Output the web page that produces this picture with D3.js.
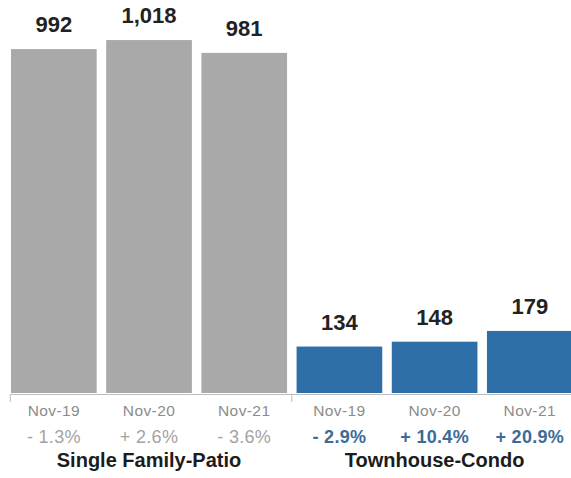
<!DOCTYPE html>
<html>
<head>
<meta charset="utf-8">
<script src="https://cdn.jsdelivr.net/npm/d3@7/dist/d3.min.js"></script>
<style>
  html, body { margin: 0; padding: 0; background: #fff; }
  svg { display: block; font-family: "Liberation Sans", Arial, Helvetica, sans-serif; }
</style>
</head>
<body>
<svg id="chart" width="571" height="478"></svg>
<script>
// Closed sales by month, two property types
const groups = ["Single Family-Patio", "Townhouse-Condo"];
const periods = ["Nov-19", "Nov-20", "Nov-21"];
const singleFamily = [992, 1018, 981];
const townhouse = [134, 148, 179];
const singleFamilyChange = ["- 1.3%", "+ 2.6%", "- 3.6%"];
const townhouseChange = ["- 2.9%", "+ 10.4%", "+ 20.9%"];

const series = [
  { group: groups[0], values: singleFamily, changes: singleFamilyChange,
    fill: "#a9a9a9", changeColor: "#a3a3a3", changeWeight: 400 },
  { group: groups[1], values: townhouse, changes: townhouseChange,
    fill: "#2f6fa7", changeColor: "#3b6b98", changeWeight: 700 }
];

const rows = [];
series.forEach(s => periods.forEach((p, i) => rows.push({
  key: s.group + "|" + p, group: s.group, period: p, value: s.values[i],
  change: s.changes[i], fill: s.fill, changeColor: s.changeColor, changeWeight: s.changeWeight
})));

const svg = d3.select("#chart");
const baseline = 393;

const x = d3.scaleBand()
  .domain(rows.map(d => d.key))
  .range([6.24, 577.4])
  .paddingInner(0.1)
  .paddingOuter(0.05);

const y = d3.scaleLinear()
  .domain([0, 1000])
  .range([baseline, baseline - 346.7]);

// bars
svg.append("g").selectAll("rect")
  .data(rows)
  .join("rect")
  .attr("x", d => x(d.key))
  .attr("y", d => y(d.value))
  .attr("width", x.bandwidth())
  .attr("height", d => y(0) - y(d.value))
  .attr("fill", d => d.fill);

// value labels
svg.append("g").selectAll("text")
  .data(rows)
  .join("text")
  .attr("x", d => x(d.key) + x.bandwidth() / 2)
  .attr("y", d => y(d.value) - 17)
  .attr("text-anchor", "middle")
  .attr("font-size", 22)
  .attr("font-weight", 700)
  .attr("fill", "#222")
  .text(d => d3.format(",")(d.value));

// baseline axis with group separators
const groupEdges = groups.map(g => {
  const first = rows.find(d => d.group === g);
  return x(first.key) - x.step() * x.paddingInner() / 2;
});
const axis = svg.append("g").attr("stroke", "#bdbdbd").attr("stroke-width", 1);
axis.append("line")
  .attr("x1", groupEdges[0] + 4).attr("x2", 571)
  .attr("y1", baseline + 1.5).attr("y2", baseline + 1.5);
axis.selectAll("line.sep")
  .data(groupEdges)
  .join("line")
  .attr("class", "sep")
  .attr("x1", (d, i) => i === 0 ? d + 4 : d)
  .attr("x2", (d, i) => i === 0 ? d + 4 : d)
  .attr("y1", baseline + 1.5)
  .attr("y2", baseline + 9);

// period tick labels
svg.append("g").selectAll("text")
  .data(rows)
  .join("text")
  .attr("x", d => x(d.key) + x.bandwidth() / 2)
  .attr("y", 415.5)
  .attr("text-anchor", "middle")
  .attr("font-size", 15.5)
  .attr("letter-spacing", 0.4)
  .attr("fill", "#8c8c8c")
  .text(d => d.period);

// year-over-year change labels
svg.append("g").selectAll("text")
  .data(rows)
  .join("text")
  .attr("x", d => x(d.key) + x.bandwidth() / 2)
  .attr("y", 443)
  .attr("text-anchor", "middle")
  .attr("font-size", 18)
  .attr("letter-spacing", 0.3)
  .attr("font-weight", d => d.changeWeight)
  .attr("fill", d => d.changeColor)
  .text(d => d.change);

// group titles
svg.append("g").selectAll("text")
  .data(groups)
  .join("text")
  .attr("x", g => {
    const ks = rows.filter(d => d.group === g).map(d => d.key);
    return (x(ks[0]) + x(ks[ks.length - 1]) + x.bandwidth()) / 2;
  })
  .attr("y", 467)
  .attr("text-anchor", "middle")
  .attr("font-size", 20)
  .attr("font-weight", 700)
  .attr("fill", "#1c1c1c")
  .text(g => g);
</script>
</body>
</html>
